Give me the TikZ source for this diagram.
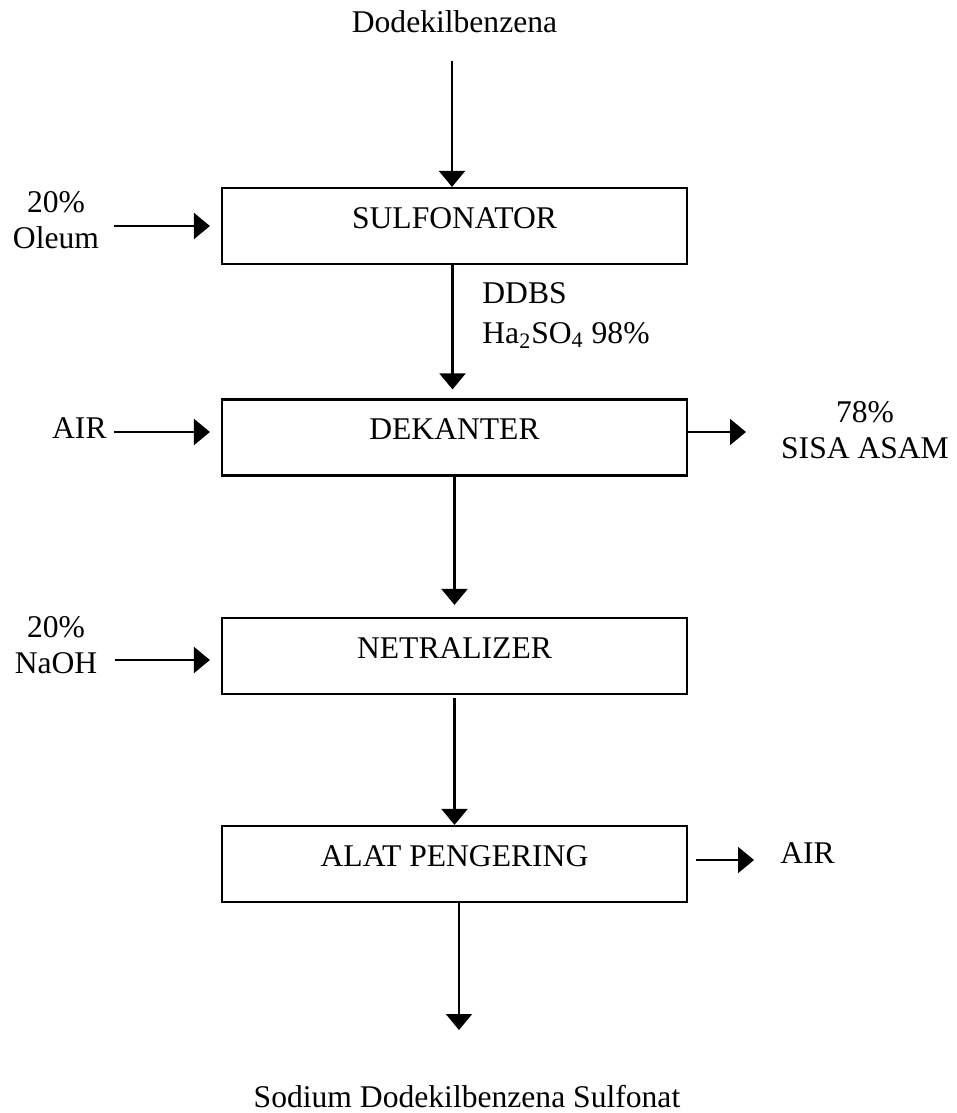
\documentclass[tikz,border=0pt]{standalone}
\usepackage{fontspec}
\setmainfont{Liberation Serif}
\usetikzlibrary{arrows.meta}
\begin{document}
\begin{tikzpicture}[x=0.5pt,y=-0.5pt,
  font=\fontsize{15.8}{18}\selectfont,
  unit/.style={draw, line width=1.1pt, minimum width=232.5pt, minimum height=38pt,
    inner sep=0pt, text height=10.46pt, text depth=8pt},
  flow/.style={line width=1.1pt, -{Triangle[length=8pt,width=13pt]}},
  lbl/.style={inner sep=0pt, align=center}]
\useasboundingbox (0,0) rectangle (957,1113);

% process units
\node[unit] (sulf) at (454.5,226) {SULFONATOR};
\node[unit] (dek)  at (454.5,437.5) {DEKANTER};
\node[unit] (net)  at (454.5,656) {NETRALIZER};
\node[unit] (alat) at (454.5,864) {ALAT PENGERING};

% labels
\node[lbl, anchor=base] (feed) at (454.5,33) {Dodekilbenzena};
\node[lbl, anchor=north] (oleum) at (56,191) {20\%\\Oleum};
\node[lbl, anchor=north west, align=left] (ddbs) at (482,282)
  {DDBS\\[2pt]Ha\textsubscript{2}SO\textsubscript{4} 98\%};
\node[lbl, anchor=base east] (airin) at (107,438.5) {AIR};
\node[lbl, anchor=north] (sisa) at (865,401) {78\%\\SISA ASAM};
\node[lbl, anchor=north] (naoh) at (56,616) {20\%\\NaOH};
\node[lbl, anchor=base west] (airout) at (780,863.5) {AIR};
\node[lbl, anchor=base] (prod) at (467,1107) {Sodium Dodekilbenzena Sulfonat};

% free ends of connectors
\coordinate (feedA) at (452,61);
\coordinate (oleumA) at (114,226);
\coordinate (airinA) at (114,432);
\coordinate (sisaA) at (746,432);
\coordinate (naohA) at (115,660);
\coordinate (airoutA) at (754,860);
\coordinate (prodA) at (459,1030);

% connectors
\draw[flow] (feedA) -- (feedA |- sulf.north);
\draw[flow, shorten >=5.5pt] (oleumA) -- (oleumA -| sulf.west);
\draw[flow, shorten >=4.5pt] ([xshift=-1pt]sulf.south) -- ([xshift=-1pt]dek.north);
\draw[flow, shorten >=5.5pt] (airinA) -- (airinA -| dek.west);
\draw[flow] (sisaA -| dek.east) -- (sisaA);
\draw[flow, shorten >=6pt] (dek.south) -- (net.north);
\draw[flow, shorten >=5.5pt] (naohA) -- (naohA -| net.west);
\draw[flow, shorten <=1.5pt] (net.south) -- (alat.north);
\draw[flow, shorten <=4pt] (airoutA -| alat.east) -- (airoutA);
\draw[flow] (prodA |- alat.south) -- (prodA);
\end{tikzpicture}
\end{document}
